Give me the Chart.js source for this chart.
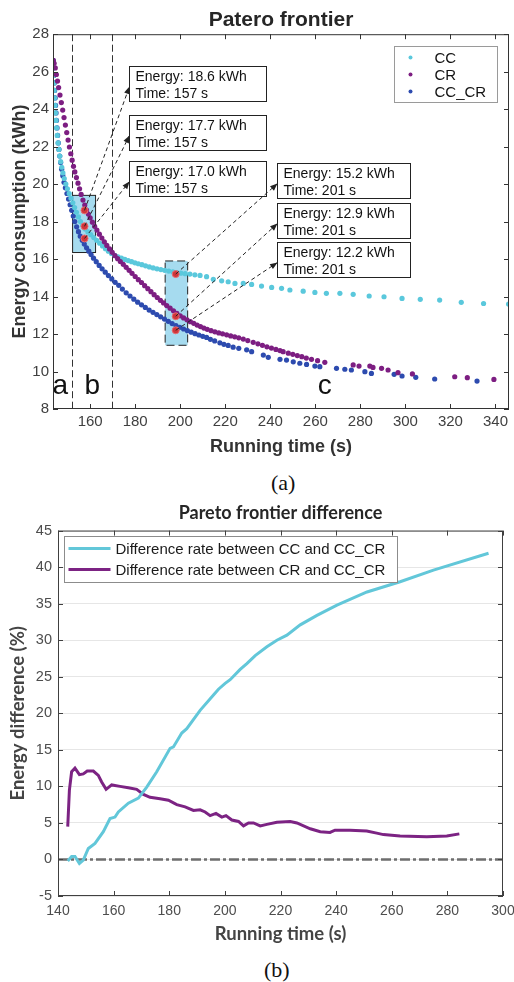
<!DOCTYPE html>
<html>
<head>
<meta charset="utf-8">
<script src="https://cdn.jsdelivr.net/npm/chart.js@4.4.1/dist/chart.umd.min.js"></script>
<style>
    html, body { margin: 0; padding: 0; background: #fff; }
    #page { position: relative; width: 514px; height: 982px; overflow: hidden; }
    #chartA { position: absolute; left: 0; top: 0; }
    #chartB { position: absolute; left: 0; top: 490px; }
    .caption { position: absolute; font-family: 'Liberation Serif', 'Times New Roman', serif; font-size: 22px; line-height: 24px; color: #111; }
</style>
</head>
<body>
<div id="page">
    <canvas id="chartA" width="514" height="470"></canvas>
    <div class="caption" style="left:271px; top:471px;">(a)</div>
    <canvas id="chartB" width="514" height="460"></canvas>
    <div class="caption" style="left:264px; top:958px;">(b)</div>
</div>
<script>
// ---------- (a) Pareto frontier ----------
const ccTime = [143.6,143.75,143.9,144.05,144.2,144.4,144.6,144.85,145.1,145.4,145.75,146.1,146.5,146.9,147.4,147.9,148.5,149.2,149.9,150.7,151.5,152.3,153.1,153.9,154.8,155.7,156.7,157.8,159.0,160.3,161.6,162.9,164.2,165.5,166.8,168.1,169.5,170.9,172.4,173.9,175.4,176.9,178.4,179.9,181.4,183.0,184.6,186.3,188.0,189.7,191.4,193.1,194.9,196.7,198.5,200.3,202.2,204.3,206.5,208.8,211.7,214.7,218.4,221.3,224.3,228.0,231.7,236.1,240.6,245.0,248.7,254.6,259.8,264.9,270.9,276.8,283.9,290.5,298.5,306.6,315.2,324.8,334.7,345.8];
const ccEnergy = [26.2,25.8,25.4,25.0,24.6,24.2,23.8,23.4,23.0,22.6,22.2,21.85,21.5,21.2,20.9,20.6,20.3,20.0,19.75,19.5,19.25,19.0,18.75,18.5,18.25,18.0,17.8,17.6,17.45,17.3,17.15,17.0,16.85,16.7,16.55,16.42,16.3,16.2,16.12,16.05,15.98,15.92,15.86,15.8,15.75,15.7,15.64,15.58,15.53,15.48,15.44,15.4,15.36,15.32,15.28,15.25,15.22,15.2,15.16,15.13,15.06,14.92,14.84,14.79,14.7,14.7,14.65,14.56,14.49,14.44,14.35,14.29,14.22,14.17,14.17,14.12,14.03,13.99,13.9,13.85,13.81,13.69,13.63,13.6];

const crTime = [143.6,144.0,144.5,145.0,145.5,146.0,146.6,147.2,147.8,148.4,149.0,149.6,150.2,150.8,151.4,152.0,152.6,153.2,153.9,154.6,155.3,156.0,156.8,157.6,158.4,159.2,160.0,161.0,162.0,163.0,164.1,165.2,166.3,167.4,168.6,169.8,171.0,172.2,173.4,174.7,176.0,177.3,178.6,180.0,181.4,182.8,184.2,185.6,187.0,188.4,189.8,191.2,192.6,194.0,195.5,197.0,198.5,200.0,201.5,203.0,204.5,206.0,207.5,209.0,210.5,212.0,213.7,215.4,217.1,218.8,220.6,222.4,224.2,226.0,228.0,230.0,232.4,234.5,236.5,238.5,240.5,242.5,244.3,245.7,248.0,250.0,252.0,254.0,256.0,258.3,261.0,264.2,276.8,279.4,284.2,285.6,289.4,292.3,296.7,303.1,321.9,327.5,339.3];
const crEnergy = [26.6,26.45,26.2,25.85,25.5,25.15,24.75,24.35,23.95,23.55,23.15,22.75,22.35,21.98,21.62,21.28,20.95,20.65,20.35,20.05,19.75,19.45,19.15,18.88,18.62,18.4,18.2,17.97,17.75,17.55,17.33,17.12,16.92,16.73,16.54,16.36,16.18,16.02,15.87,15.72,15.56,15.4,15.24,15.07,14.9,14.75,14.58,14.42,14.26,14.1,13.95,13.8,13.66,13.52,13.38,13.24,13.1,12.97,12.86,12.76,12.66,12.57,12.48,12.4,12.32,12.25,12.18,12.12,12.06,12.01,11.96,11.9,11.85,11.8,11.73,11.65,11.56,11.48,11.4,11.32,11.25,11.18,11.12,11.06,10.98,10.92,10.85,10.79,10.72,10.65,10.58,10.49,10.35,10.29,10.29,10.22,10.17,10.08,9.94,9.87,9.72,9.67,9.58];

const ccCrTime = [143.6,143.75,143.9,144.05,144.25,144.45,144.65,144.85,145.05,145.3,145.55,145.85,146.15,146.5,146.9,147.35,147.85,148.4,149.0,149.7,150.4,151.1,151.8,152.5,153.2,154.0,154.8,155.6,156.5,157.4,158.4,159.4,160.4,161.5,162.7,164.0,165.3,166.7,168.1,169.6,171.1,172.7,174.3,176.0,177.7,179.4,181.1,182.8,184.5,186.2,187.9,189.6,191.3,193.0,194.7,196.4,198.1,199.8,201.5,203.2,204.9,206.6,208.3,210.0,211.7,213.4,215.3,217.6,219.4,221.3,223.5,226.0,229.5,231.7,236.9,239.1,244.3,247.2,250.2,253.1,256.1,259.8,262.0,269.4,273.1,276.0,282.0,284.9,295.0,298.5,304.6,313.0,331.8];
const ccCrEnergy = [26.6,26.2,25.8,25.4,25.0,24.6,24.2,23.8,23.4,23.0,22.6,22.2,21.85,21.5,21.15,20.8,20.45,20.1,19.8,19.5,19.2,18.9,18.6,18.3,18.0,17.72,17.46,17.22,17.0,16.8,16.6,16.42,16.24,16.05,15.86,15.66,15.48,15.3,15.12,14.94,14.76,14.6,14.4,14.2,14.03,13.86,13.7,13.56,13.42,13.28,13.16,13.04,12.92,12.8,12.68,12.56,12.45,12.36,12.27,12.18,12.1,12.02,11.95,11.88,11.82,11.72,11.63,11.53,11.45,11.39,11.3,11.24,11.16,11.06,10.88,10.76,10.65,10.61,10.52,10.44,10.38,10.29,10.26,10.17,10.12,10.08,9.99,9.9,9.85,9.76,9.69,9.6,9.49];

// marked points (red) and their callouts
const markTime = [157.5, 157.5, 157.5, 198, 198, 198];
const markEnergy = [18.6, 17.75, 17.1, 15.2, 12.95, 12.2];
const calloutText = [
    ['Energy: 18.6 kWh', 'Time: 157 s'],
    ['Energy: 17.7 kWh', 'Time: 157 s'],
    ['Energy: 17.0 kWh', 'Time: 157 s'],
    ['Energy: 15.2 kWh', 'Time: 201 s'],
    ['Energy: 12.9 kWh', 'Time: 201 s'],
    ['Energy: 12.2 kWh', 'Time: 201 s']
];
const zoneBounds = [151.9, 169.8];
const zoneLabels = ['a', 'b', 'c'];

const xTicksA = [160, 180, 200, 220, 240, 260, 280, 300, 320, 340];
const yTicksA = [8, 10, 12, 14, 16, 18, 20, 22, 24, 26, 28];

// ---------- (b) Pareto frontier difference ----------
const diffCcTime = [143.5,144.9,146.1,147.7,149.1,150.9,153.3,156.3,158.7,160.5,161.7,165.3,168.9,171.9,175.5,180.3,181.5,184.5,186.3,191.1,195.9,197.7,200.1,201.9,205.5,207.9,210.9,215.1,218.7,222.3,227.1,233.1,240.3,251.1,263.0,275.0,294.8];
const diffCcValue = [-0.2,0.4,0.4,-0.55,-0.1,1.5,2.2,3.8,5.6,5.8,6.5,7.7,8.4,9.9,12.0,15.2,15.4,17.3,17.9,20.4,22.5,23.3,24.1,24.6,26.0,26.8,27.9,29.1,30.0,30.7,32.1,33.4,34.8,36.6,38.0,39.6,41.9];
const diffCrTime = [143.5,144.1,144.9,146.1,147.7,149.1,150.5,152.7,154.5,155.7,157.3,159.3,162.3,165.3,168.3,170.7,173.1,176.7,179.7,182.7,185.7,188.7,191.1,192.9,194.7,196.8,198.9,200.4,202.5,204.9,206.7,208.5,210.3,212.7,215.1,218.7,223.5,225.9,230.7,234.3,237.8,239.6,245.0,251.0,254.6,257.0,263.0,272.6,279.8,284.3];
const diffCrValue = [4.5,9.5,12.0,12.5,11.6,11.7,12.1,12.1,11.5,10.6,9.6,10.2,10.0,9.8,9.6,8.9,8.5,8.3,8.1,7.5,7.2,6.7,6.8,6.5,6.0,6.3,5.8,6.0,5.4,5.2,4.6,5.0,5.0,4.6,4.8,5.1,5.2,5.0,4.2,3.8,3.7,4.0,4.0,3.9,3.6,3.4,3.2,3.1,3.2,3.5];

const xTicksB = [140, 160, 180, 200, 220, 240, 260, 280, 300];
const yTicksB = [-5, 0, 5, 10, 15, 20, 25, 30, 35, 40, 45];

Chart.defaults.font.family = "'Liberation Sans', Arial, Helvetica, sans-serif";
Chart.defaults.color = '#404040';

function toPoints(xs, ys) {
    return xs.map((x, i) => ({ x: x, y: ys[i] }));
}

// box round the axes with small inward ticks on all four sides (matlab look)
const frameTicks = {
    id: 'frameTicks',
    afterDatasetsDraw(chart, args, opts) {
        const { ctx, chartArea: a, scales: { x, y } } = chart;
        const len = opts.len || 5;
        ctx.save();
        ctx.strokeStyle = opts.color || '#333';
        ctx.lineWidth = 1;
        ctx.strokeRect(a.left + 0.5, a.top + 0.5, a.right - a.left - 1, a.bottom - a.top - 1);
        ctx.beginPath();
        x.ticks.forEach(t => {
            const px = Math.round(x.getPixelForValue(t.value)) + 0.5;
            ctx.moveTo(px, a.bottom); ctx.lineTo(px, a.bottom - len);
            ctx.moveTo(px, a.top); ctx.lineTo(px, a.top + len);
        });
        y.ticks.forEach(t => {
            const py = Math.round(y.getPixelForValue(t.value)) + 0.5;
            ctx.moveTo(a.left, py); ctx.lineTo(a.left + len, py);
            ctx.moveTo(a.right, py); ctx.lineTo(a.right - len, py);
        });
        ctx.stroke();
        ctx.restore();
    }
};

function drawArrow(ctx, x1, y1, x2, y2) {
    ctx.setLineDash([4, 3]);
    ctx.beginPath();
    ctx.moveTo(x1, y1);
    ctx.lineTo(x2, y2);
    ctx.stroke();
    ctx.setLineDash([]);
    const ang = Math.atan2(y2 - y1, x2 - x1);
    ctx.beginPath();
    ctx.moveTo(x2, y2);
    ctx.lineTo(x2 - 8 * Math.cos(ang - 0.38), y2 - 8 * Math.sin(ang - 0.38));
    ctx.lineTo(x2 - 8 * Math.cos(ang + 0.38), y2 - 8 * Math.sin(ang + 0.38));
    ctx.closePath();
    ctx.fill();
}

// highlighted regions, zone lines, callouts and legend of chart (a)
const paretoMarks = {
    id: 'paretoMarks',
    beforeDatasetsDraw(chart) {
        const { ctx, chartArea: a, scales: { x, y } } = chart;
        ctx.save();
        // shaded boxes round the compared points
        const boxes = [
            { t0: 152.2, t1: 162.4, e0: 16.35, e1: 19.4, dash: [] },
            { t0: 193.3, t1: 203.3, e0: 11.4, e1: 15.9, dash: [8, 4] }
        ];
        boxes.forEach(b => {
            const l = x.getPixelForValue(b.t0), r = x.getPixelForValue(b.t1);
            const t = y.getPixelForValue(b.e1), bt = y.getPixelForValue(b.e0);
            ctx.fillStyle = '#a6dbef';
            ctx.fillRect(l, t, r - l, bt - t);
            ctx.setLineDash(b.dash);
            ctx.strokeStyle = '#222';
            ctx.lineWidth = 1;
            ctx.strokeRect(l, t, r - l, bt - t);
        });
        // zone separators
        ctx.setLineDash([7, 3.5]);
        ctx.strokeStyle = '#333';
        zoneBounds.forEach(v => {
            const px = Math.round(x.getPixelForValue(v)) + 0.5;
            ctx.beginPath();
            ctx.moveTo(px, a.top);
            ctx.lineTo(px, a.bottom);
            ctx.stroke();
        });
        ctx.setLineDash([]);
        // zone letters
        const letterAt = [146.7, 160.9, 264.2];
        ctx.fillStyle = '#111';
        ctx.font = "28px 'Liberation Sans', Arial, sans-serif";
        ctx.textAlign = 'center';
        ctx.textBaseline = 'alphabetic';
        zoneLabels.forEach((s, i) => {
            ctx.fillText(s, x.getPixelForValue(letterAt[i]), y.getPixelForValue(8.8));
        });
        ctx.restore();
    },
    afterDatasetsDraw(chart) {
        const { ctx, chartArea: a, scales: { x, y } } = chart;
        ctx.save();
        // callout boxes (top-left corner in data units)
        const boxAt = [[177.3, 26.29], [177.3, 23.68], [177.3, 21.23], [242.9, 21.12], [242.9, 18.99], [242.9, 16.9]];
        ctx.strokeStyle = '#222';
        ctx.fillStyle = '#222';
        ctx.lineWidth = 1;
        calloutText.forEach((lines, i) => {
            const bx = Math.round(x.getPixelForValue(boxAt[i][0])) + 0.5;
            const by = Math.round(y.getPixelForValue(boxAt[i][1])) + 0.5;
            const w = i < 3 ? 137 : 133;
            const h = 35;
            drawArrow(ctx, x.getPixelForValue(markTime[i]), y.getPixelForValue(markEnergy[i]), bx, by + 20);
            ctx.fillStyle = '#fff';
            ctx.fillRect(bx, by, w, h);
            ctx.strokeRect(bx, by, w, h);
            ctx.fillStyle = '#111';
            ctx.font = "14px 'Liberation Sans', Arial, sans-serif";
            ctx.textAlign = 'left';
            ctx.textBaseline = 'alphabetic';
            ctx.fillText(lines[0], bx + 6, by + 14);
            ctx.fillText(lines[1], bx + 6, by + 31);
            ctx.fillStyle = '#222';
        });
        // legend
        const lw = 103, lh = 56;
        const lx = Math.round(a.right - 12 - lw) + 0.5, ly = Math.round(a.top + 12) + 0.5;
        ctx.fillStyle = '#fff';
        ctx.fillRect(lx, ly, lw, lh);
        ctx.strokeStyle = '#9a9a9a';
        ctx.strokeRect(lx, ly, lw, lh);
        ctx.font = "15px 'Liberation Sans', Arial, sans-serif";
        ctx.textBaseline = 'middle';
        ctx.textAlign = 'left';
        [1, 2, 3].forEach((di, k) => {
            const ds = chart.data.datasets[di];
            const cy = ly + 11 + k * 17;
            ctx.fillStyle = ds.backgroundColor;
            ctx.beginPath();
            ctx.arc(lx + 16, cy, 2, 0, Math.PI * 2);
            ctx.fill();
            ctx.fillStyle = '#111';
            ctx.fillText(ds.label, lx + 40, cy + 1);
        });
        ctx.restore();
    }
};

const chartA = new Chart(document.getElementById('chartA'), {
    type: 'scatter',
    data: {
        datasets: [
            { label: 'marked', data: toPoints(markTime, markEnergy), backgroundColor: '#d0363a', borderColor: '#e86c70', borderWidth: 1, pointRadius: 3.5, order: 0 },
            { label: 'CC', data: toPoints(ccTime, ccEnergy), backgroundColor: '#5ac8dc', pointRadius: 2.6, pointBorderWidth: 0, order: 2 },
            { label: 'CR', data: toPoints(crTime, crEnergy), backgroundColor: '#7d1e82', pointRadius: 2.6, pointBorderWidth: 0, order: 1 },
            { label: 'CC_CR', data: toPoints(ccCrTime, ccCrEnergy), backgroundColor: '#2d4baf', pointRadius: 2.6, pointBorderWidth: 0, order: 3 }
        ]
    },
    options: {
        responsive: false,
        animation: false,
        layout: { padding: { left: 0, right: 5, top: 0, bottom: 0 } },
        plugins: {
            legend: { display: false },
            tooltip: { enabled: false },
            title: {
                display: true, text: 'Patero frontier', fullSize: false, color: '#262626',
                font: { size: 21, weight: 'bold' }, padding: { top: 8, bottom: 1 }
            },
            frameTicks: { color: '#333', len: 5 }
        },
        scales: {
            x: {
                type: 'linear', min: 143.5, max: 346,
                afterBuildTicks: s => { s.ticks = xTicksA.map(v => ({ value: v })); },
                afterFit: s => { s.height = 61; },
                grid: { display: false, drawTicks: false },
                border: { display: false },
                ticks: { color: '#404040', font: { size: 15 }, padding: 4, maxRotation: 0 },
                title: { display: true, text: 'Running time (s)', color: '#333', font: { size: 18, weight: 'bold' }, padding: { top: 0, bottom: 12 } }
            },
            y: {
                min: 8, max: 28,
                afterBuildTicks: s => { s.ticks = yTicksA.map(v => ({ value: v })); },
                afterFit: s => { s.width = 53; },
                grid: { display: false, drawTicks: false },
                border: { display: false },
                ticks: { color: '#404040', font: { size: 15 }, padding: 4 },
                title: { display: true, text: 'Energy consumption (kWh)', color: '#333', font: { size: 18, weight: 'bold' }, padding: { top: 9, bottom: 0 } }
            }
        }
    },
    plugins: [paretoMarks, frameTicks]
});

// zero reference line and legend of chart (b)
const diffMarks = {
    id: 'diffMarks',
    beforeDatasetsDraw(chart) {
        const { ctx, chartArea: a, scales: { y } } = chart;
        const py = y.getPixelForValue(0);
        ctx.save();
        ctx.strokeStyle = '#6e6e6e';
        ctx.lineWidth = 2.5;
        ctx.setLineDash([10, 3, 3, 3]);
        ctx.beginPath();
        ctx.moveTo(a.left, py);
        ctx.lineTo(a.right, py);
        ctx.stroke();
        ctx.restore();
    },
    afterDatasetsDraw(chart) {
        const { ctx, chartArea: a } = chart;
        const lx = Math.round(a.left + 6) + 0.5, ly = Math.round(a.top + 5) + 0.5;
        const lw = 333, lh = 46;
        ctx.save();
        ctx.fillStyle = '#fff';
        ctx.fillRect(lx, ly, lw, lh);
        ctx.strokeStyle = '#8c8c8c';
        ctx.lineWidth = 1;
        ctx.strokeRect(lx, ly, lw, lh);
        ctx.font = "15px 'Liberation Sans', Arial, sans-serif";
        ctx.textBaseline = 'middle';
        ctx.textAlign = 'left';
        chart.data.datasets.forEach((ds, k) => {
            const cy = ly + 12 + k * 21;
            ctx.strokeStyle = ds.borderColor;
            ctx.lineWidth = 3;
            ctx.beginPath();
            ctx.moveTo(lx + 4, cy);
            ctx.lineTo(lx + 46, cy);
            ctx.stroke();
            ctx.fillStyle = '#1a1a1a';
            ctx.fillText(ds.label, lx + 51, cy + 1);
        });
        ctx.restore();
    }
};

const chartB = new Chart(document.getElementById('chartB'), {
    type: 'line',
    data: {
        datasets: [
            { label: 'Difference rate between CC and CC_CR', data: toPoints(diffCcTime, diffCcValue), borderColor: '#62c7d9', borderWidth: 3, pointRadius: 0, tension: 0 },
            { label: 'Difference rate between CR and CC_CR', data: toPoints(diffCrTime, diffCrValue), borderColor: '#7c2383', borderWidth: 3, pointRadius: 0, tension: 0 }
        ]
    },
    options: {
        responsive: false,
        animation: false,
        layout: { padding: { left: 0, right: 0, top: 0, bottom: 0 } },
        plugins: {
            legend: { display: false },
            tooltip: { enabled: false },
            title: {
                display: true, text: 'Pareto frontier difference', fullSize: false, color: '#262626',
                font: { family: "Lato, 'Open Sans', sans-serif", size: 18, weight: 'bold' }, padding: { top: 12, bottom: 7 }
            },
            frameTicks: { color: '#404040', len: 5 }
        },
        scales: {
            x: {
                type: 'linear', min: 140, max: 300,
                afterBuildTicks: s => { s.ticks = xTicksB.map(v => ({ value: v })); },
                afterFit: s => { s.height = 54; s.paddingRight = 11; },
                grid: { display: false, drawTicks: false },
                border: { display: false },
                ticks: { color: '#4d4d4d', font: { size: 14 }, padding: 7, maxRotation: 0 },
                title: { display: true, text: 'Running time (s)', color: '#444', font: { family: "Lato, 'Open Sans', sans-serif", size: 18.5, weight: 'bold' }, padding: { top: 0, bottom: 5 } }
            },
            y: {
                min: -5, max: 45,
                afterBuildTicks: s => { s.ticks = yTicksB.map(v => ({ value: v })); },
                afterFit: s => { s.width = 58; },
                grid: { color: '#e6e6e6', lineWidth: 1, drawTicks: false },
                border: { display: false },
                ticks: { color: '#4d4d4d', font: { size: 14.5 }, padding: 6 },
                title: { display: true, text: 'Energy difference (%)', color: '#444', font: { family: "Lato, 'Open Sans', sans-serif", size: 18.5, weight: 'bold' }, padding: { top: 7, bottom: 0 } }
            }
        }
    },
    plugins: [diffMarks, frameTicks]
});
</script>
</body>
</html>
